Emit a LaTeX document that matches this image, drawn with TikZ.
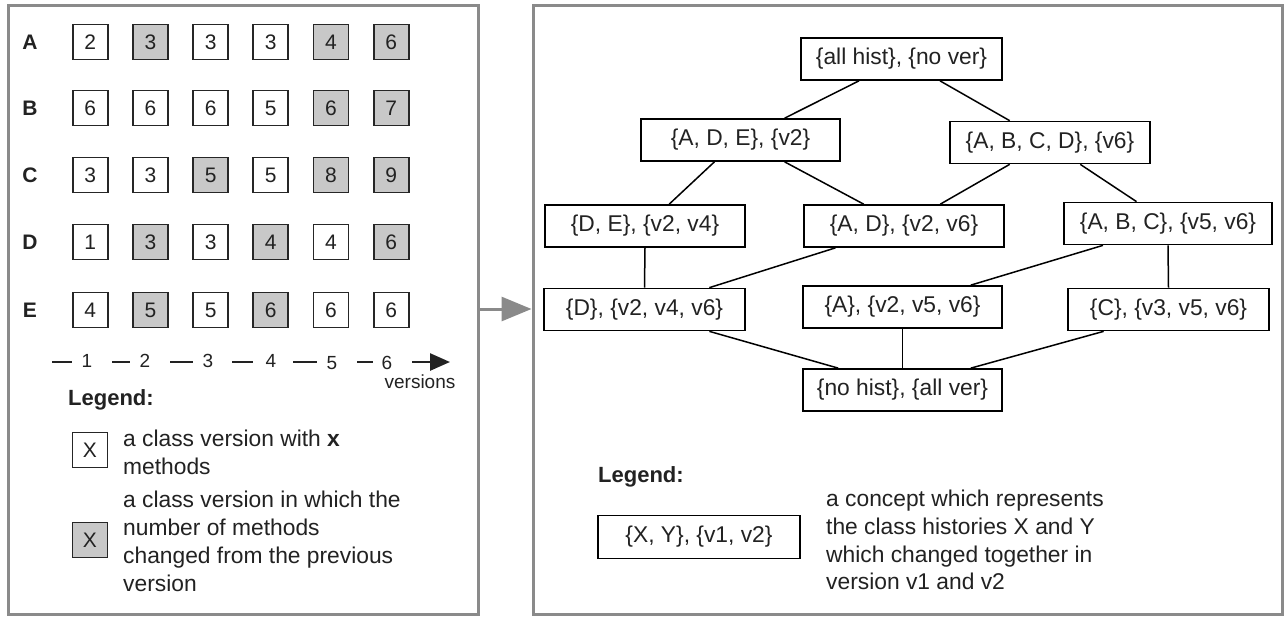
\documentclass[tikz,border=0pt]{standalone}
\usepackage{fontspec}
\setmainfont{Liberation Sans}
\usetikzlibrary{calc,arrows.meta}
\definecolor{paneledge}{HTML}{8A8A8A}
\definecolor{boxfill}{HTML}{C8C8C8}
\definecolor{ink}{HTML}{222222}
\tikzset{
  panel/.style={draw=paneledge, line width=3pt, fill=white, inner sep=0pt},
  cnode/.style={draw=black, line width=1.7pt, minimum height=42pt, inner sep=0pt,
    text=ink, font=\fontsize{22.8}{26}\selectfont},
  gbox/.style={draw=black!85, line width=1.8pt, minimum width=35pt, minimum height=35pt,
    inner sep=0pt, text=ink, font=\fontsize{21}{24}\selectfont},
  chg/.style={fill=boxfill},
  rowlab/.style={text=ink, font=\bfseries\fontsize{21}{24}\selectfont},
  axnum/.style={text=ink, font=\fontsize{19}{22}\selectfont},
  axdash/.style={draw=ink, line width=2.6pt},
  legtitle/.style={text=ink, font=\bfseries\fontsize{22}{24}\selectfont, anchor=west, inner sep=0pt},
  legtext/.style={text=ink, font=\fontsize{22.8}{27.8}\selectfont, anchor=west, align=left, inner sep=0pt},
  link/.style={draw=black, line width=1.5pt},
}
\begin{document}
\begin{tikzpicture}[x=1pt,y=-1pt]
\useasboundingbox (0,0) rectangle (1286,619);
\fill[white] (0,0) rectangle (1286,619);

% panels
\node[panel, minimum width=470pt, minimum height=609pt] (lp) at (243,309.5) {};
\node[panel, minimum width=749pt, minimum height=609pt] (rp) at (907.5,309.5) {};
\draw[draw=paneledge, line width=3pt, -{Triangle[length=30pt,width=24pt]}]
  (lp.east |- 0,309) -- (rp.west |- 0,309);

% grid of class versions
\foreach \r/\y/\vals in {
  A/42/{2/0,3/1,3/0,3/0,4/1,6/1},
  B/108/{6/0,6/0,6/0,5/0,6/1,7/1},
  C/175/{3/0,3/0,5/1,5/0,8/1,9/1},
  D/242/{1/0,3/1,3/0,4/1,4/0,6/1},
  E/310/{4/0,5/1,5/0,6/1,6/0,6/0}} {
  \node[rowlab] (lab-\r) at (30,\y) {\r};
  \foreach \v/\g [count=\i] in \vals {
    \pgfmathsetmacro{\xx}{30+60.2*\i}
    \ifnum\g=1
      \node[gbox, chg] (g-\r-\i) at (\xx,\y) {\v};
    \else
      \node[gbox] (g-\r-\i) at (\xx,\y) {\v};
    \fi
  }
}

% version axis
\draw[axdash] (52,362) -- (72,362);
\node[axnum] (n1) at (87,361) {1};
\draw[axdash] (112,362) -- (130,362);
\node[axnum] (n2) at (145,361) {2};
\draw[axdash] (170,362) -- (193,362);
\node[axnum] (n3) at (208,361) {3};
\draw[axdash] (232,362) -- (253,362);
\node[axnum] (n4) at (271,361) {4};
\draw[axdash] (293,362) -- (317,362);
\node[axnum] (n5) at (332,363) {5};
\draw[axdash] (357,362) -- (373,362);
\node[axnum] (n6) at (387,363) {6};
\draw[axdash, -{Triangle[length=20pt,width=17pt]}] (412,362) -- (450,362);
\node[axnum] (ver) at (420,382) {versions};

% left legend
\node[legtitle] (lt1) at (68,400) {Legend:};
\node[gbox] (lx1) at (90,450) {X};
\node[legtext] (ltx1) at (123,452) {a class version with \textbf{x}\\methods};
\node[gbox, chg] (lx2) at (90,540) {X};
\node[legtext] (ltx2) at (123,541.5) {a class version in which the\\number of methods\\changed from the previous\\version};

% concept lattice
\node[cnode, minimum width=201pt] (top)  at (901.5,59)   {\{all hist\}, \{no ver\}};
\node[cnode, minimum width=199pt] (ade)  at (740.5,140)  {\{A, D, E\}, \{v2\}};
\node[cnode, minimum width=200pt] (abcd) at (1050,142.5) {\{A, B, C, D\}, \{v6\}};
\node[cnode, minimum width=200pt] (de)   at (645,226)    {\{D, E\}, \{v2, v4\}};
\node[cnode, minimum width=200pt] (ad)   at (904,226)    {\{A, D\}, \{v2, v6\}};
\node[cnode, minimum width=208pt] (abc)  at (1168,223.5) {\{A, B, C\}, \{v5, v6\}};
\node[cnode, minimum width=201pt] (d)    at (644.5,309.5){\{D\}, \{v2, v4, v6\}};
\node[cnode, minimum width=199pt] (a)    at (902.5,307)  {\{A\}, \{v2, v5, v6\}};
\node[cnode, minimum width=201pt] (c)    at (1168.5,309.5){\{C\}, \{v3, v5, v6\}};
\node[cnode, minimum width=199pt] (bot)  at (902.5,390)  {\{no hist\}, \{all ver\}};

\draw[link] ($(top.south west)!0.29!(top.south east)$) -- ($(ade.north west)!0.72!(ade.north east)$);
\draw[link] ($(top.south west)!0.69!(top.south east)$) -- ($(abcd.north west)!0.30!(abcd.north east)$);
\draw[link] ($(ade.south west)!0.37!(ade.south east)$) -- ($(de.north west)!0.62!(de.north east)$);
\draw[link] ($(ade.south west)!0.72!(ade.south east)$) -- ($(ad.north west)!0.30!(ad.north east)$);
\draw[link] ($(abcd.south west)!0.30!(abcd.south east)$) -- ($(ad.north west)!0.68!(ad.north east)$);
\draw[link] ($(abcd.south west)!0.65!(abcd.south east)$) -- ($(abc.north west)!0.35!(abc.north east)$);
\draw[link] (de.south) -- (d.north);
\draw[link] ($(ad.south west)!0.16!(ad.south east)$) -- ($(d.north west)!0.82!(d.north east)$);
\draw[link] ($(abc.south west)!0.19!(abc.south east)$) -- ($(a.north west)!0.84!(a.north east)$);
\draw[link] (abc.south) -- (c.north);
\draw[link] ($(d.south west)!0.82!(d.south east)$) -- ($(bot.north west)!0.18!(bot.north east)$);
\draw[link] (a.south) -- (bot.north);
\draw[link] ($(c.south west)!0.18!(c.south east)$) -- ($(bot.north west)!0.84!(bot.north east)$);

% right legend
\node[legtitle] (lt2) at (598,477) {Legend:};
\node[cnode, minimum width=202pt, minimum height=43pt] (lx3) at (699,537) {\{X, Y\}, \{v1, v2\}};
\node[legtext] (ltx3) at (826,540) {a concept which represents\\the class histories X and Y\\which changed together in\\version v1 and v2};
\end{tikzpicture}
\end{document}
